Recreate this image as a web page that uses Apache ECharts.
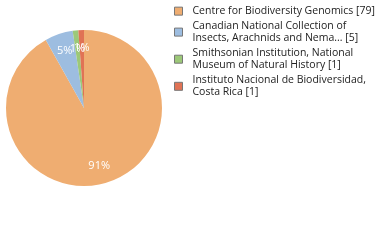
<!DOCTYPE html>
<html><head><meta charset="utf-8">
<script src="https://cdn.jsdelivr.net/npm/echarts@6/dist/echarts.min.js"></script>
<style>html,body{margin:0;padding:0;background:#fff}#c{width:380px;height:240px}</style>
</head><body><div id="c"></div>
<script>
var categories = [
  "Centre for Biodiversity Genomics [79]",
  "Canadian National Collection of\nInsects, Arachnids and Nema... [5]",
  "Smithsonian Institution, National\nMuseum of Natural History [1]",
  "Instituto Nacional de Biodiversidad,\nCosta Rica [1]"
];
var values = [79, 5, 1, 1];
var colors = ["#EFAD71", "#9DBDE0", "#9CC878", "#E07355"];

var data = categories.map(function (c, i) {
  return { name: c, value: values[i], itemStyle: { color: colors[i] } };
});
var total = values.reduce(function (a, b) { return a + b; }, 0);

var chart = echarts.init(document.getElementById('c'), null, { renderer: 'canvas' });
chart.setOption({
  animation: false,
  legend: {
    orient: 'vertical', left: 174, top: 5, padding: 0,
    itemWidth: 8, itemHeight: 8, itemGap: 2.5,
    icon: 'rect',
    itemStyle: { borderColor: '#777', borderWidth: 1 },
    textStyle: { fontFamily: 'Open Sans', fontSize: 10.5, color: '#222', lineHeight: 12.3, padding: [0, 0, 0, 5] },
    data: categories
  },
  series: [{
    type: 'pie', center: [84, 108], radius: [0, 78],
    startAngle: 90, clockwise: true,
    label: { show: false }, labelLine: { show: false },
    emphasis: { disabled: true },
    data: data
  }, {
    type: 'pie', center: [84, 108], radius: [36, 78],
    startAngle: 90, clockwise: true, silent: true,
    itemStyle: { color: 'rgba(0,0,0,0)' },
    label: {
      show: true, position: 'inside', color: '#fff',
      fontFamily: 'Open Sans', fontSize: 11,
      formatter: function (p) { return Math.floor(p.value / total * 100) + '%'; }
    },
    labelLine: { show: false },
    labelLayout: { hideOverlap: false },
    emphasis: { disabled: true },
    data: values.map(function (v, i) { return { name: categories[i], value: v, itemStyle: { color: 'rgba(0,0,0,0)' } }; })
  }]
});
</script></body></html>
